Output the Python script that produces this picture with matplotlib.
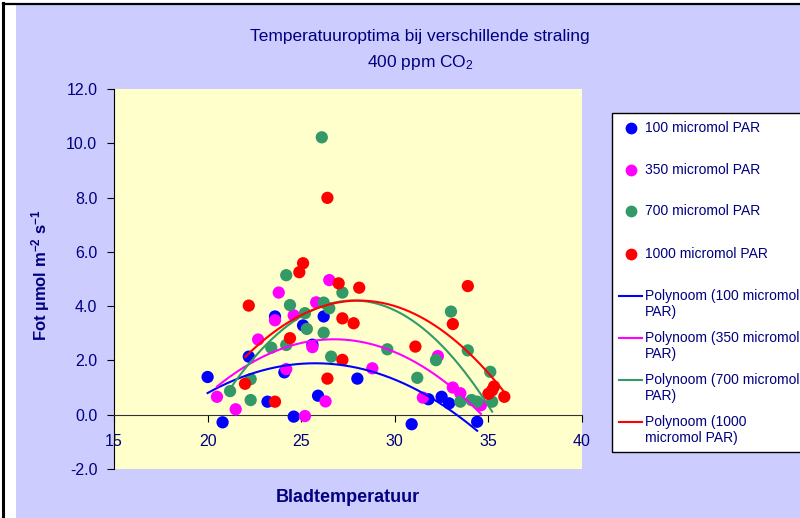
import matplotlib
matplotlib.use('Agg')
import matplotlib.pyplot as plt
import numpy as np
from matplotlib.patches import Rectangle
from matplotlib.lines import Line2D

plt.rcParams['font.family'] = ['Liberation Sans', 'DejaVu Sans']
plt.rcParams['mathtext.default'] = 'regular'

# leaf temperature (x) and photosynthesis (y) per light level
t100 = [20.0, 20.8, 22.2, 23.2, 23.6, 24.1, 24.6, 25.1, 25.6, 25.9, 26.2, 28.0,
        30.9, 31.8, 32.5, 32.9, 34.4]
p100 = [1.39, -0.28, 2.14, 0.48, 3.62, 1.56, -0.07, 3.29, 2.58, 0.70, 3.62, 1.33,
        -0.35, 0.57, 0.66, 0.42, -0.26]

t350 = [20.5, 21.5, 22.7, 23.8, 23.6, 24.2, 24.6, 25.2, 25.8, 25.6, 26.5, 26.3,
        28.8, 31.5, 32.3, 33.1, 33.5, 34.6]
p350 = [0.66, 0.20, 2.77, 4.50, 3.48, 1.68, 3.66, -0.05, 4.14, 2.49, 4.96, 0.49,
        1.71, 0.63, 2.16, 1.00, 0.79, 0.35]

t700 = [21.2, 22.3, 22.3, 23.4, 24.2, 24.2, 24.4, 25.3, 25.2, 26.2, 26.2, 26.5,
        27.2, 26.6, 29.6, 26.1, 31.2, 32.2, 33.0, 33.9, 33.5, 34.1, 34.4, 35.1, 35.2]
p700 = [0.87, 0.54, 1.31, 2.47, 2.57, 5.14, 4.04, 3.16, 3.74, 3.02, 4.13, 3.92,
        4.50, 2.14, 2.41, 10.22, 1.36, 2.01, 3.80, 2.37, 0.48, 0.54, 0.48, 1.58, 0.48]

t1000 = [25.1, 24.9, 22.2, 27.0, 28.1, 27.2, 27.8, 24.4, 27.2, 26.4, 22.0, 23.6,
         26.4, 33.9, 33.1, 31.1, 35.0, 35.2, 35.3, 35.85]
p1000 = [5.58, 5.25, 4.02, 4.84, 4.68, 3.55, 3.37, 2.82, 2.02, 1.33, 1.14, 0.48,
         7.99, 4.74, 3.34, 2.51, 0.77, 0.90, 1.04, 0.66]

series = [(t100, p100, '#0000FF', '100 micromol PAR'),
          (t350, p350, '#FF00FF', '350 micromol PAR'),
          (t700, p700, '#339966', '700 micromol PAR'),
          (t1000, p1000, '#FF0000', '1000 micromol PAR')]
trend_labels = ['Polynoom (100 micromol\nPAR)', 'Polynoom (350 micromol\nPAR)',
                'Polynoom (700 micromol\nPAR)', 'Polynoom (1000\nmicromol PAR)']

navy = '#000080'

fig = plt.figure(figsize=(8, 5.18), dpi=100)
fig.patch.set_facecolor('white')
# chart area background and frame
fig.patches.append(Rectangle((16/800, 0), 1, 1 - 5/518, transform=fig.transFigure,
                             facecolor='#CCCCFF', edgecolor='none', zorder=-10))
fig.lines.append(Line2D([3/800, 3/800], [0, 1 - 3/518], transform=fig.transFigure,
                        color='black', lw=2.2))
fig.lines.append(Line2D([3/800, 1], [1 - 4/518, 1 - 4/518], transform=fig.transFigure,
                        color='black', lw=1.6))

ax = fig.add_axes([114/800, 1 - 469/518, 468/800, 380/518])
ax.set_facecolor('#FFFFCC')

for t, p, c, lab in series:
    ax.scatter(t, p, s=78, color=c, edgecolors='none', zorder=3)
for t, p, c, lab in series:
    # second order trendline, like excel's "Polynoom"
    coef = np.polyfit(t, p, 2)
    xs = np.linspace(min(t), max(t), 200)
    ax.plot(xs, np.polyval(coef, xs), color=c, lw=1.5, zorder=4)

ax.set_xlim(15, 40)
ax.set_ylim(-2, 12)
ax.set_xticks(np.arange(15, 41, 5))
ax.set_yticks(np.arange(-2, 12.1, 2))
ax.set_yticklabels([f'{v:.1f}' for v in np.arange(-2, 12.1, 2)])
ax.spines['top'].set_visible(False)
ax.spines['right'].set_visible(False)
ax.spines['bottom'].set_position(('data', 0))
ax.spines['bottom'].set_color('#333333')
ax.spines['left'].set_color('black')
ax.tick_params(axis='both', colors='black', labelcolor=navy, labelsize=11.5,
               direction='out', length=5)
ax.tick_params(axis='x', pad=9)
ax.tick_params(axis='y', pad=7)

fig.text(420/800, 1 - 37/518, 'Temperatuuroptima bij verschillende straling',
         ha='center', va='center', color=navy, fontsize=12.5)
fig.text(420/800, 1 - 62/518, '400 ppm CO$_2$', ha='center', va='center',
         color=navy, fontsize=12.5)
fig.text(348/800, 1 - 497/518, 'Bladtemperatuur', ha='center', va='center',
         color=navy, fontsize=13, fontweight='bold')
fig.text(41/800, 1 - 275/518, 'Fot µmol m$^{-2}$ s$^{-1}$', ha='center', va='center',
         rotation=90, color=navy, fontsize=12, fontweight='bold')

# legend box drawn by hand so the line handles sit on the first text line
fig.patches.append(Rectangle((612/800, 1 - 452/518), 200/800, 339/518,
                             transform=fig.transFigure, facecolor='white',
                             edgecolor='black', lw=1, zorder=5))
ys = [128, 170, 211, 254]
for (t, p, c, lab), y in zip(series, ys):
    fig.lines.append(Line2D([631/800], [1 - y/518], transform=fig.transFigure,
                            marker='o', ms=8.5, color=c, mec='none', ls='none', zorder=6))
    fig.text(645/800, 1 - y/518, lab, ha='left', va='center', color=navy,
             fontsize=10, zorder=6)
ys = [296, 338, 380, 422]
for (t, p, c, lab), tl, y in zip(series, trend_labels, ys):
    fig.lines.append(Line2D([619/800, 642/800], [1 - y/518, 1 - y/518],
                            transform=fig.transFigure, color=c, lw=1.5, zorder=6))
    fig.text(645/800, 1 - (y - 7)/518, tl, ha='left', va='top', color=navy,
             fontsize=10, zorder=6, linespacing=1.15)

fig.savefig('out.png', dpi=100, facecolor=fig.get_facecolor())
